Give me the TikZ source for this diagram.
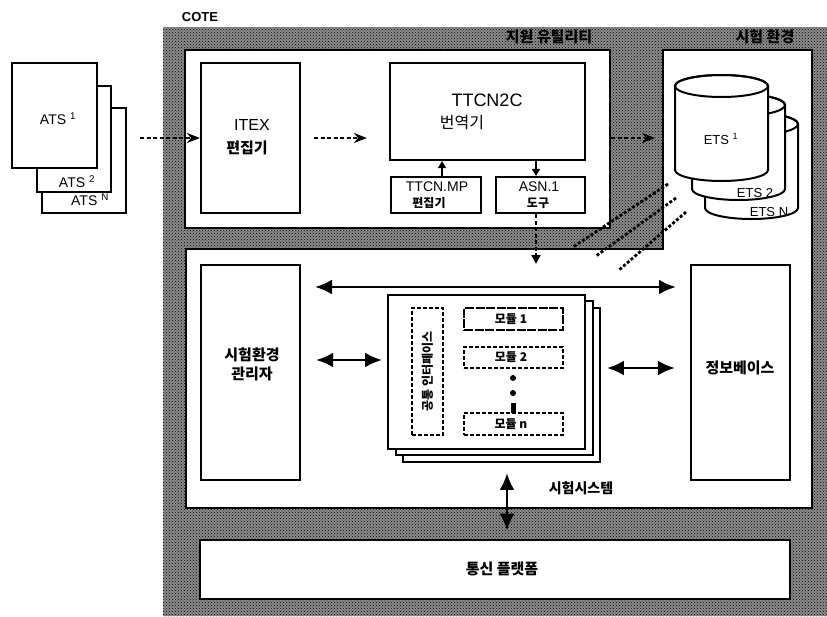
\documentclass[tikz,border=0pt]{standalone}
\usepackage{fontspec}
\setmainfont{Liberation Sans}
\newfontfamily\kr{Noto Sans CJK KR}
\usetikzlibrary{arrows.meta,patterns}
\begin{document}
\begin{tikzpicture}[x=1pt,y=-1pt,
  box/.style={draw, line width=2.2pt, fill=white, inner sep=0pt},
  page/.style={draw, line width=1.9pt, fill=white, inner sep=0pt},
  modbox/.style={draw, line width=1.5pt, dash pattern=on 4pt off 2pt, fill=white, inner sep=0pt},
  krb/.style={font=\kr\bfseries\fontsize{#1}{#1}\selectfont, inner sep=0pt},
  kr/.style={font=\kr\fontsize{#1}{#1}\selectfont, inner sep=0pt},
  lat/.style={font=\fontsize{#1}{#1}\selectfont, inner sep=0pt},
  bigarrow/.style={line width=2.8pt, {Latex[length=17pt,width=15pt]}-{Latex[length=17pt,width=15pt]}},
  dsharrow/.style={line width=2pt, dash pattern=on 4pt off 2.5pt, -{Stealth[length=13pt,width=10pt]}},
  smallarrow/.style={line width=1.6pt, -{Triangle[length=7pt,width=8pt]}},
  etsline/.style={line width=2.8pt, dash pattern=on 3pt off 2pt},
]
\useasboundingbox (0,0) rectangle (827,616);
\fill[white] (0,0) rectangle (827,616);

% hatched COTE area
\fill[black!45] (163,27) rectangle (827,616);
\fill[pattern=crosshatch dots, pattern color=black] (163,27) rectangle (827,616);
\node[font=\bfseries\fontsize{13}{13}\selectfont, inner sep=0pt] (cote) at (200,17) {COTE};

% white regions
\node[box, line width=2.6pt, minimum width=425pt, minimum height=178pt] (support) at (397.5,139) {};
\draw[line width=2.6pt, fill=white] (186,249) -- (663,249) -- (663,50) -- (812,50) -- (812,508) -- (186,508) -- cycle;
\node[box, line width=2.6pt, minimum width=590pt, minimum height=59pt] (platform) at (495,569.5) {};
\node[krb=15] (supportlab) at (549,37) {지원 유틸리티};
\node[krb=15] (envlab) at (765,37) {시험 환경};
\node[krb=15] (platlab) at (502,569) {통신 플랫폼};

% ATS pages
\node[page, minimum width=84pt, minimum height=105pt] (atsn) at (84,160.5) {};
\node[page, minimum width=74pt, minimum height=106pt] (ats2) at (74,139) {};
\node[page, minimum width=85pt, minimum height=105pt] (ats1) at (54.5,115.5) {};
\node[lat=14] (ats1lab) at (58,119) {ATS \textsuperscript{1}};
\node[lat=14] (ats2lab) at (77,182) {ATS \textsuperscript{2}};
\node[lat=14] (atsnlab) at (90,200) {ATS \textsuperscript{N}};

% support utilities
\node[box, minimum width=99pt, minimum height=150pt] (itex) at (250.5,138) {};
\node[lat=16] (itexlab) at (252,125) {ITEX};
\node[krb=15] (itexlab2) at (247,148) {편집기};
\node[box, minimum width=195pt, minimum height=97pt] (ttcn) at (487.5,111.5) {};
\node[lat=18] (ttcnlab) at (487,100) {TTCN2C};
\node[kr=16] (ttcnlab2) at (462,123) {번역기};
\node[box, minimum width=90pt, minimum height=36pt] (ttcnmp) at (436,195) {};
\node[lat=14] (mplab) at (437,187) {TTCN.MP};
\node[krb=12] (mplab2) at (429,203) {편집기};
\node[box, minimum width=89pt, minimum height=36pt] (asn) at (540.5,195) {};
\node[lat=14] (asnlab) at (539,187) {ASN.1};
\node[krb=12] (asnlab2) at (538,203) {도구};

\coordinate (mpx) at (442,0);
\coordinate (asx) at (536,0);
\draw[smallarrow] (ttcnmp.north -| mpx) -- (ttcn.south -| mpx);
\draw[smallarrow] (ttcn.south -| asx) -- (asn.north -| asx);
\coordinate (asend) at (536,264);
\draw[dsharrow, -{Triangle[length=9pt,width=9pt]}] (asn.south -| asx) -- (asend);

\coordinate (atsout) at (140,138);
\draw[dsharrow] (atsout) -- (itex.west);
\draw[dsharrow, shorten <=13pt, shorten >=22pt] (itex.east) -- (itex.east -| ttcn.west);
\coordinate (etsin) at (655,138);
\draw[dsharrow] (itex.east -| support.east) -- (etsin);

% ETS cylinders
\foreach \dx/\dy in {30/38, 17/19, 0/0} {
  \begin{scope}[shift={(\dx,\dy)}]
    \draw[line width=2pt, fill=white] (675,86) -- (675,170)
      arc[start angle=180, end angle=0, x radius=46.5, y radius=11] -- (768,86)
      arc[start angle=0, end angle=-180, x radius=46.5, y radius=11] -- cycle;
    \draw[line width=2pt] (721.5,86) ellipse[x radius=46.5, y radius=11];
  \end{scope}
}
\node[lat=13] (ets1lab) at (721,139) {ETS \textsuperscript{1}};
\node[lat=13] (ets2lab) at (755,193) {ETS 2};
\node[lat=13] (etsnlab) at (769,212) {ETS N};

% slanted dotted connectors
\draw[etsline] (668,184) -- (573,247);
\draw[etsline] (676,198) -- (596,256);
\draw[etsline] (686,212) -- (619,270);

% lower box contents
\node[box, minimum width=99pt, minimum height=215pt] (manager) at (250.5,372.5) {};
\node[krb=15] (manlab) at (252,355) {시험환경};
\node[krb=15] (manlab2) at (252,374) {관리자};
\node[box, minimum width=99pt, minimum height=215pt] (infobase) at (740.5,372.5) {};
\node[krb=15] (infolab) at (740,368) {정보베이스};

\node[page, minimum width=197pt, minimum height=154pt] (ts3) at (501.5,385) {};
\node[page, minimum width=197pt, minimum height=154pt] (ts2) at (494.5,378) {};
\node[page, minimum width=197pt, minimum height=154pt] (ts) at (486.5,372) {};
\node[krb=14] (tslab) at (581,488) {시험시스템};

\node[modbox, minimum width=31pt, minimum height=127pt] (iface) at (427.5,371.5) {};
\node[krb=12, rotate=90] (ifacelab) at (427.5,371.5) {공통 인터페이스};
\node[modbox, dash pattern=on 9pt off 1.5pt, minimum width=99pt, minimum height=22pt] (mod1) at (513.5,319) {};
\node[krb=12] (mod1lab) at (511,319) {모듈 1};
\node[modbox, minimum width=99pt, minimum height=21pt] (mod2) at (513.5,357.5) {};
\node[krb=12] (mod2lab) at (511,357.5) {모듈 2};
\node[modbox, minimum width=99pt, minimum height=22pt] (modn) at (513.5,424) {};
\node[krb=12] (modnlab) at (511,424) {모듈 n};
\fill (513,378) circle (3);
\fill (513,393) circle (3);
\fill (510.5,403) rectangle (515.5,413);

% big arrows
\coordinate (busl) at (315,287);
\coordinate (busr) at (676,287);
\draw[bigarrow] (busl) -- (busr);
\coordinate (ya) at (0,360);
\coordinate (yb) at (0,368);
\coordinate (vx) at (507,0);
\draw[bigarrow, shorten <=15pt, shorten >=5pt] (manager.east |- ya) -- (ts.west |- ya);
\draw[bigarrow, shorten <=6pt, shorten >=15pt] (ts3.east |- yb) -- (infobase.west |- yb);
\draw[bigarrow, shorten <=10pt, shorten >=8pt] (ts3.south -| vx) -- (platform.north -| vx);
\end{tikzpicture}
\end{document}
